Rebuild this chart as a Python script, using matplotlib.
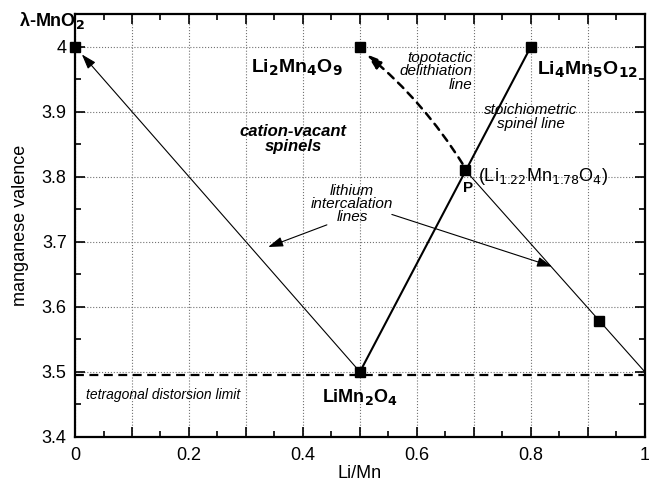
"""
Manganese valence vs Li/Mn for spinel phases
"""
import matplotlib
matplotlib.use("Agg")
import matplotlib.pyplot as plt
from matplotlib.ticker import MultipleLocator, FuncFormatter

plt.rcParams['font.family'] = ['Liberation Sans', 'DejaVu Sans']

# compositions (Li/Mn, Mn valence)
comp_names = ["lambda-MnO2", "Li2Mn4O9", "Li4Mn5O12", "P", "LiMn2O4", "x092"]
li_mn = [0.0, 0.5, 0.8, 0.685, 0.5, 0.92]
valence = [4.0, 4.0, 4.0, 3.81, 3.5, 3.578]

# lines
stoich_x = [0.5, 0.8]
stoich_y = [3.5, 4.0]
intercal1_x = [0.5, 0.0]
intercal1_y = [3.5, 4.0]
intercal2_x = [0.69, 1.0]
intercal2_y = [3.805, 3.5]
tetra_limit = 3.495

fig = plt.figure(figsize=(6.49, 4.86), dpi=100)
ax = fig.add_axes([0.1156, 0.101, 0.878, 0.870])

ax.set_xlim(0, 1)
ax.set_ylim(3.4, 4.05)

# grid
ax.xaxis.set_major_locator(MultipleLocator(0.1))
ax.xaxis.set_minor_locator(MultipleLocator(0.05))
ax.yaxis.set_major_locator(MultipleLocator(0.1))
ax.yaxis.set_minor_locator(MultipleLocator(0.05))
ax.xaxis.set_major_formatter(FuncFormatter(
    lambda v, p: ("%g" % round(v, 2)) if abs(round(v * 10) % 2) < 1e-6 else ""))
ax.yaxis.set_major_formatter(FuncFormatter(lambda v, p: "%g" % round(v, 2)))
ax.grid(True, which='major', linestyle=':', color='0.45', linewidth=0.8)
ax.tick_params(which='both', direction='in', top=True, right=True, labelsize=13)
ax.tick_params(which='major', length=7, width=1.2)
ax.tick_params(which='minor', length=4, width=1.2)
ax.tick_params(axis='x', which='major', pad=7)
ax.tick_params(axis='y', which='major', pad=6)
for s in ax.spines.values():
    s.set_linewidth(1.6)

# lines
ax.plot(stoich_x, stoich_y, color='k', linewidth=1.5, zorder=3)
ax.plot(intercal2_x, intercal2_y, color='k', linewidth=0.8, zorder=3)
ax.annotate("", xy=(intercal1_x[1] + 0.012, intercal1_y[1] - 0.012),
            xytext=(intercal1_x[0], intercal1_y[0]),
            arrowprops=dict(arrowstyle="-|>,head_length=0.9,head_width=0.3",
                            color='k', lw=0.8, shrinkA=0, shrinkB=0), zorder=3)
ax.axhline(tetra_limit, color='k', linestyle=(0, (4, 2.5)), linewidth=1.6, zorder=3)

# topotactic delithiation (dashed, curved)
ax.annotate("", xy=(li_mn[1] + 0.012, valence[1] - 0.012),
            xytext=(li_mn[3] - 0.005, valence[3] + 0.01),
            arrowprops=dict(arrowstyle="-|>,head_length=0.9,head_width=0.3",
                            color='k', lw=1.8, linestyle=(0, (3, 2.5)),
                            connectionstyle="arc3,rad=0.08",
                            shrinkA=0, shrinkB=0), zorder=3)

# markers
ax.plot(li_mn, valence, 's', color='k', markersize=7, zorder=5, clip_on=False)

# labels
ax.text(-0.04, 4.04, r"λ-MnO$_\mathbf{2}$", fontsize=13, fontweight='bold',
        ha='center', va='center', clip_on=False)
ax.text(0.39, 3.968, r"Li$_\mathbf{2}$Mn$_\mathbf{4}$O$_\mathbf{9}$", fontsize=14,
        fontweight='bold', ha='center', va='center')
ax.text(0.81, 3.965, r"Li$_\mathbf{4}$Mn$_\mathbf{5}$O$_\mathbf{12}$", fontsize=14,
        fontweight='bold', ha='left', va='center')
ax.text(0.5, 3.462, r"LiMn$_\mathbf{2}$O$_\mathbf{4}$", fontsize=13,
        fontweight='bold', ha='center', va='center')
ax.text(0.707, 3.80, r"(Li$_{1.22}$Mn$_{1.78}$O$_4$)", fontsize=13,
        ha='left', va='center')
ax.text(0.69, 3.782, "P", fontsize=11, fontweight='bold', ha='center', va='center')

ax.text(0.698, 3.962, "topotactic\ndelithiation\nline", fontsize=11,
        style='italic', ha='right', va='center', linespacing=0.95)
ax.text(0.80, 3.892, "stoichiometric\nspinel line", fontsize=11,
        style='italic', ha='center', va='center', linespacing=0.95)
ax.text(0.383, 3.858, "cation-vacant\nspinels", fontsize=12, style='italic',
        fontweight='bold', ha='center', va='center', linespacing=0.95)
ax.text(0.486, 3.758, "lithium\nintercalation\nlines", fontsize=11,
        style='italic', ha='center', va='center', linespacing=0.95)
ax.text(0.02, 3.465, "tetragonal distorsion limit", fontsize=10,
        style='italic', ha='left', va='center')

arrow_kw = dict(arrowstyle="-|>,head_length=0.9,head_width=0.3", color='k',
                lw=0.8, shrinkA=0, shrinkB=0)
ax.annotate("", xy=(0.339, 3.692), xytext=(0.442, 3.726), arrowprops=arrow_kw)
ax.annotate("", xy=(0.837, 3.662), xytext=(0.556, 3.742), arrowprops=arrow_kw)

ax.set_xlabel("Li/Mn", fontsize=13, labelpad=1)
ax.set_ylabel("manganese valence", fontsize=13, labelpad=9)

fig.savefig("out.png", dpi=100)
